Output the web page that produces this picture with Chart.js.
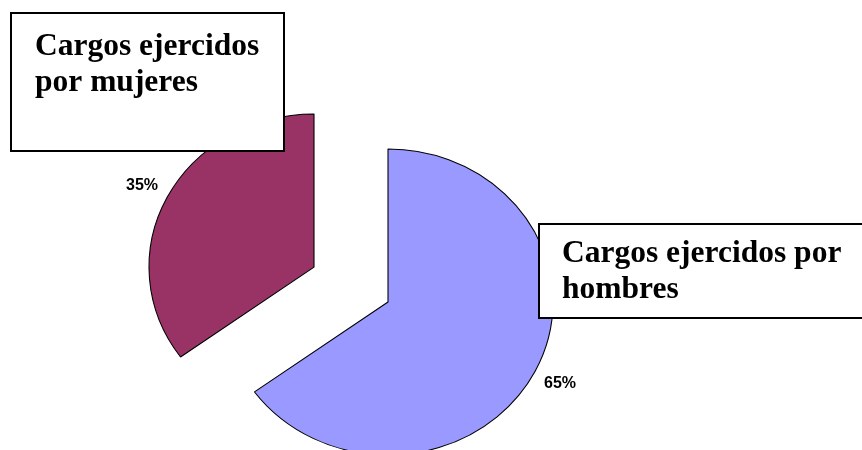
<!DOCTYPE html>
<html>
<head>
<meta charset="utf-8">
<title>Cargos ejercidos</title>
<script src="https://cdn.jsdelivr.net/npm/chart.js@4/dist/chart.umd.min.js"></script>
<style>
  html, body { margin: 0; padding: 0; background: #ffffff; }
  canvas { display: block; }
</style>
</head>
<body>
<canvas id="pieChart" width="862" height="450"></canvas>
<script>
// data
const categories = ['Cargos ejercidos por hombres', 'Cargos ejercidos por mujeres'];
const values = [65, 35];
const explode = [0, 77];
const boxLines = [
    ['Cargos ejercidos por', 'hombres'],
    ['Cargos ejercidos', 'por mujeres']
];

const sliceColors = ['#9999ff', '#993366'];
const X_STRETCH = 165 / 153; // the original pie is a bit wider than tall

// Pull slices out along their middle angle and stretch the pie horizontally
const ellipsePie = {
    id: 'ellipsePie',
    beforeDatasetsDraw(chart) {
        const meta = chart.getDatasetMeta(0);
        const area = chart.chartArea;
        const cx = (area.left + area.right) / 2 + meta.controller.offsetX;
        const cy = (area.top + area.bottom) / 2 + meta.controller.offsetY;
        meta.data.forEach((arc, i) => {
            const mid = (arc.startAngle + arc.endAngle) / 2;
            arc.x = cx + Math.cos(mid) * explode[i];
            arc.y = cy + Math.sin(mid) * explode[i];
        });
        const ctx = chart.ctx;
        ctx.save();
        ctx.translate(cx, 0);
        ctx.scale(X_STRETCH, 1);
        ctx.translate(-cx, 0);
    },
    afterDatasetsDraw(chart) {
        chart.ctx.restore();
    }
};

// Percent labels and the two label boxes
const pieLabels = {
    id: 'pieLabels',
    afterDraw(chart) {
        const ctx = chart.ctx;
        const meta = chart.getDatasetMeta(0);
        const area = chart.chartArea;
        const cx = (area.left + area.right) / 2 + meta.controller.offsetX;
        const total = values.reduce((a, b) => a + b, 0);

        ctx.save();
        ctx.fillStyle = '#000';
        ctx.font = 'bold 16px "Liberation Sans", Arial, sans-serif';
        ctx.textAlign = 'center';
        ctx.textBaseline = 'middle';
        meta.data.forEach((arc, i) => {
            const mid = (arc.startAngle + arc.endAngle) / 2;
            const dist = arc.outerRadius + 26;
            const x = cx + (arc.x + Math.cos(mid) * dist - cx) * X_STRETCH;
            const y = arc.y + Math.sin(mid) * dist;
            ctx.fillText(Math.round(values[i] / total * 100) + '%', x, y);
        });

        const boxes = [
            { x: 538, y: 223, w: 340, h: 96, tx: 562, ty: 262 },
            { x: 10, y: 12, w: 275, h: 140, tx: 35, ty: 55 }
        ];
        ctx.font = 'bold 31.5px "Liberation Serif", "Times New Roman", serif';
        ctx.textAlign = 'left';
        ctx.textBaseline = 'alphabetic';
        boxes.forEach((b, i) => {
            ctx.fillStyle = '#fff';
            ctx.fillRect(b.x, b.y, b.w, b.h);
            ctx.strokeStyle = '#000';
            ctx.lineWidth = 2;
            ctx.strokeRect(b.x + 1, b.y + 1, b.w - 2, b.h - 2);
            ctx.fillStyle = '#000';
            boxLines[i].forEach((line, j) => {
                ctx.fillText(line, b.tx, b.ty + j * 36);
            });
        });
        ctx.restore();
    }
};

const ctx = document.getElementById('pieChart').getContext('2d');

new Chart(ctx, {
    type: 'pie',
    data: {
        labels: categories,
        datasets: [{
            data: values,
            backgroundColor: sliceColors,
            borderColor: '#000',
            borderWidth: 1,
            radius: 153,
            clip: false
        }]
    },
    options: {
        responsive: false,
        devicePixelRatio: 1,
        animation: false,
        events: [],
        layout: {
            padding: { left: 0, right: 86, top: 154, bottom: 0 }
        },
        plugins: {
            legend: { display: false },
            tooltip: { enabled: false }
        }
    },
    plugins: [ellipsePie, pieLabels]
});
</script>
</body>
</html>
